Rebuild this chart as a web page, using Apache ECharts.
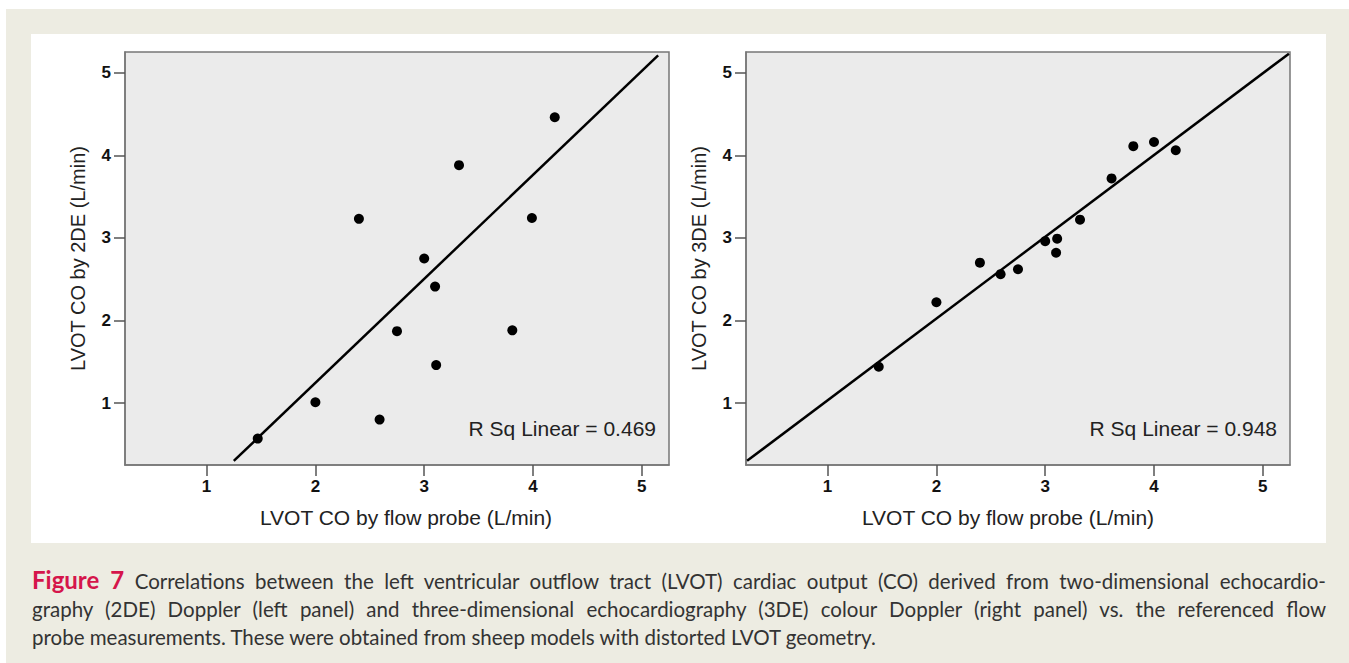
<!DOCTYPE html>
<html>
<head>
<meta charset="utf-8">
<script src="https://cdn.jsdelivr.net/npm/echarts@6/dist/echarts.min.js"></script>
<style>
  html, body { margin: 0; padding: 0; width: 1349px; height: 663px; overflow: hidden; background: #fff; }
  #frame { position: absolute; left: 6px; top: 9px; width: 1343px; height: 654px; background: #EDECE2; }
  #panel { position: absolute; left: 31px; top: 34px; width: 1295px; height: 509px; background: #fff; }
  #chart { position: absolute; left: 0; top: 0; width: 1349px; height: 663px; }
  #caption { position: absolute; left: 32px; top: 566px; width: 1294px; font-family: Lato, sans-serif;
             font-size: 20.5px; line-height: 28px; color: #333; }
  #caption div { white-space: nowrap; }
  #caption .j { text-align: justify; text-align-last: justify; }
  #caption b { color: #D5154B; font-size: 24px; }
</style>
</head>
<body>
<div id="frame"></div>
<div id="panel"></div>
<div id="chart"></div>
<div id="caption">
  <div class="j"><b>Figure 7</b> Correlations between the left ventricular outflow tract (LVOT) cardiac output (CO) derived from two-dimensional echocardio-</div>
  <div class="j">graphy (2DE) Doppler (left panel) and three-dimensional echocardiography (3DE) colour Doppler (right panel) vs. the referenced flow</div>
  <div>probe measurements. These were obtained from sheep models with distorted LVOT geometry.</div>
</div>
<script>
// values (L/min)
var tickValues = [1, 2, 3, 4, 5];
var axisRange = [0.25, 5.25];

var probe2DE = [1.47, 2.00, 2.59, 2.40, 2.75, 3.00, 3.10, 3.11, 3.32, 3.81, 3.99, 4.20];
var co2DE    = [0.57, 1.01, 0.80, 3.23, 1.87, 2.75, 2.41, 1.46, 3.88, 1.88, 3.24, 4.46];

var probe3DE = [1.47, 2.00, 2.40, 2.59, 2.75, 3.00, 3.11, 3.10, 3.32, 3.61, 3.81, 4.00, 4.20];
var co3DE    = [1.44, 2.22, 2.70, 2.56, 2.62, 2.96, 2.99, 2.82, 3.22, 3.72, 4.11, 4.16, 4.06];

// fit line ends as drawn
var fit2DE = [[1.25, 0.30], [5.15, 5.21]];
var fit3DE = [[0.26, 0.30], [5.24, 5.23]];

var rSqLabels = ['R Sq Linear = 0.469', 'R Sq Linear = 0.948'];
var yNames = ['LVOT CO by 2DE (L/min)', 'LVOT CO by 3DE (L/min)'];
var xName = 'LVOT CO by flow probe (L/min)';

(function() {
  var font = 'Liberation Sans';
  var chart = echarts.init(document.getElementById('chart'), null, { renderer: 'svg' });

  function pairs(xs, ys) {
    return xs.map(function(x, i) { return [x, ys[i]]; });
  }

  function grid(left) {
    return {
      left: left, top: 52, width: 544, height: 413,
      show: true, backgroundColor: '#EBEBEB', borderColor: '#777', borderWidth: 1.5
    };
  }

  function axis(gi, isX) {
    // x titles sit a little off-centre in the original
    var pad = isX ? (gi === 0 ? [0, 0, 0, 18] : [0, 20, 0, 0]) : 0;
    return {
      gridIndex: gi,
      type: 'value',
      min: axisRange[0],
      max: axisRange[1],
      name: isX ? xName : yNames[gi],
      nameLocation: 'middle',
      nameGap: isX ? 42 : 37,
      nameTextStyle: { fontFamily: font, fontSize: isX ? 21 : 20, color: '#222', padding: pad },
      axisLine: { show: true, lineStyle: { color: '#777', width: 1.5 } },
      splitLine: { show: false },
      axisTick: { show: true, customValues: tickValues, length: 11, lineStyle: { color: '#555', width: 1.5 } },
      axisLabel: {
        show: true, customValues: tickValues, margin: isX ? 13 : 14,
        fontFamily: font, fontSize: 17, fontWeight: 'bold', color: '#111'
      }
    };
  }

  function scatter(gi, data) {
    return {
      type: 'scatter', xAxisIndex: gi, yAxisIndex: gi, data: data,
      symbolSize: 10, itemStyle: { color: '#000', opacity: 1 }, z: 3
    };
  }

  function fitLine(gi, data) {
    return {
      type: 'line', xAxisIndex: gi, yAxisIndex: gi, data: data,
      symbol: 'none', lineStyle: { color: '#000', width: 2.5 }, silent: true, z: 2
    };
  }

  function rSqText(x, text) {
    return {
      type: 'text', x: x, y: 428, z: 10,
      style: { text: text, align: 'right', verticalAlign: 'middle', fontFamily: font, fontSize: 21, fill: '#222' }
    };
  }

  chart.setOption({
    animation: false,
    grid: [grid(125), grid(746)],
    xAxis: [axis(0, true), axis(1, true)],
    yAxis: [axis(0, false), axis(1, false)],
    series: [
      fitLine(0, fit2DE),
      scatter(0, pairs(probe2DE, co2DE)),
      fitLine(1, fit3DE),
      scatter(1, pairs(probe3DE, co3DE))
    ],
    graphic: [rSqText(656, rSqLabels[0]), rSqText(1277, rSqLabels[1])]
  });
  window.addEventListener('resize', function() { chart.resize(); });
})();
</script>
</body>
</html>
